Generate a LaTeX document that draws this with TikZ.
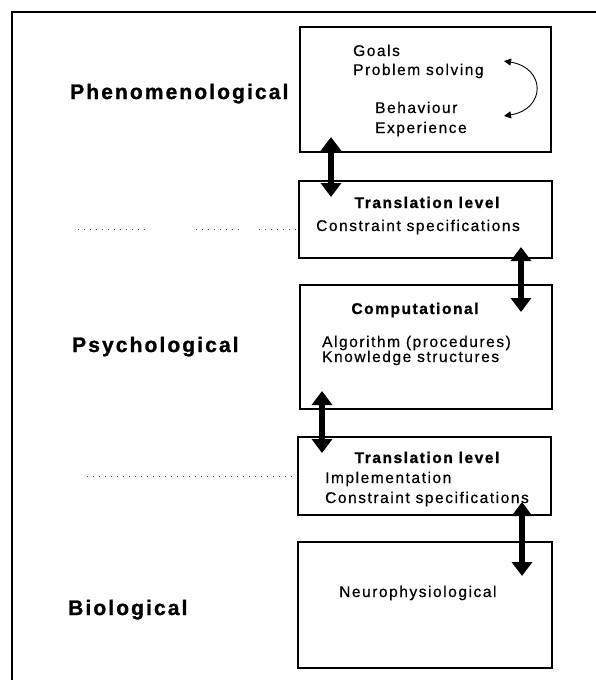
\documentclass[tikz,border=0pt]{standalone}
\usepackage{fontspec}
\setmainfont{Liberation Sans}[LetterSpace=10,
  UprightFeatures={FakeBold=0.6},
  BoldFeatures={FakeBold=1.2}]
\usetikzlibrary{arrows.meta}
\begin{document}
\begin{tikzpicture}[x=1pt,y=-1pt,
  levelbox/.style={draw, line width=1.1pt, inner sep=0pt},
  body/.style={inner sep=0pt, anchor=base west, font=\fontsize{15.5}{18}\selectfont},
  head/.style={inner sep=0pt, anchor=base, font=\fontsize{15.5}{18}\selectfont\bfseries},
  levelname/.style={inner sep=0pt, anchor=base west, font=\fontsize{21}{25}\selectfont\bfseries},
  twoway/.style={line width=5.5pt, {Triangle[width=20pt,length=14pt]}-{Triangle[width=20pt,length=14pt]}},
  loop/.style={line width=0.9pt, {Triangle[width=7pt,length=7pt]}-{Triangle[width=7pt,length=7pt]}},
  dots/.style={line width=1pt, dash pattern=on 1pt off 5pt, black!70}
]
\useasboundingbox (0,0) rectangle (596,680);

% open frame (left and top edges)
\draw[line width=2pt] (12,680) -- (12,12) -- (596,12);

% the five level boxes
\node[levelbox, minimum width=251pt, minimum height=125pt] (b1) at (425.5,89.5) {};
\node[levelbox, minimum width=253pt, minimum height=77pt]  (b2) at (425.5,219.5) {};
\node[levelbox, minimum width=252pt, minimum height=124pt] (b3) at (426,347) {};
\node[levelbox, minimum width=253pt, minimum height=78pt]  (b4) at (424.5,476) {};
\node[levelbox, minimum width=254pt, minimum height=126pt] (b5) at (425,605) {};

% level names on the left
\node[levelname] (phen) at (70,99)  {Phenomenological};
\node[levelname] (psy)  at (72,352) {Psychological};
\node[levelname] (bio)  at (68,615) {Biological};

% box 1
\node[body] (goals) at (353,56)  {Goals};
\node[body] (prob)  at (353,75)  {Problem solving};
\node[body] (beh)   at (375,113) {Behaviour};
\node[body] (exp)   at (375,133) {Experience};
\coordinate (loopA) at (504,61);
\coordinate (loopB) at (504,116);
\draw[loop] (loopA) .. controls (546,68) and (546,109) .. (loopB);

% box 2
\node[head] (tr1)  at (427,208) {Translation level};
\node[body] (con1) at (316,231) {Constraint specifications};

% box 3
\node[head] (comp) at (415,314) {Computational};
\node[body] (alg)  at (322,347) {Algorithm (procedures)};
\node[body] (know) at (322,362) {Knowledge structures};

% box 4
\node[head] (tr2)  at (427,463) {Translation level};
\node[body] (impl) at (325,483) {Implementation};
\node[body] (con2) at (325,503) {Constraint specifications};

% box 5
\node[body] (neuro) at (339,597) {Neurophysiological};

% two-way arrows between neighbouring levels
\coordinate (a1t) at (331,137); \coordinate (a1b) at (331,197);
\coordinate (a2t) at (521,247); \coordinate (a2b) at (521,312);
\coordinate (a3t) at (322,391); \coordinate (a3b) at (322,453);
\coordinate (a4t) at (522,502); \coordinate (a4b) at (522,576);
\draw[twoway] (a1t) -- (a1b);
\draw[twoway] (a2t) -- (a2b);
\draw[twoway] (a3t) -- (a3b);
\draw[twoway] (a4t) -- (a4b);

% dotted guide lines towards the translation levels
\coordinate (d1a) at (78,229);  \coordinate (d1b) at (150,229);
\coordinate (d1c) at (196,229); \coordinate (d1d) at (240,229);
\coordinate (d1e) at (259,229);
\draw[dots] (d1a) -- (d1b);
\draw[dots] (d1c) -- (d1d);
\draw[dots] (d1e) -- (b2.west |- d1e);
\coordinate (d2a) at (87,476);
\draw[dots] (d2a) -- (b4.west |- d2a);
\end{tikzpicture}
\end{document}
